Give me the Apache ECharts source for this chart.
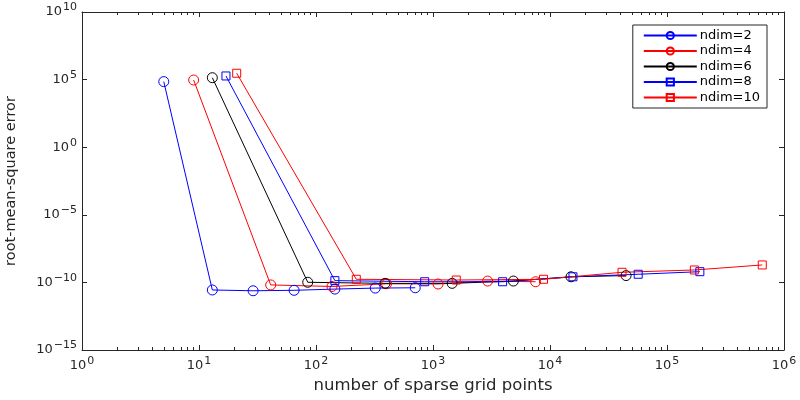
<!DOCTYPE html>
<html>
<head>
<meta charset="utf-8">
<script src="https://cdn.jsdelivr.net/npm/echarts@6/dist/echarts.min.js"></script>
<style>html,body{margin:0;padding:0;background:#fff}#c{width:800px;height:400px}</style>
</head>
<body>
<div id="c"></div>
<script>
// Sparse grid point counts
const pts2  = [5, 13, 29, 65, 145, 321, 705];
const pts4  = [9, 41, 137, 401, 1105, 2929, 7537];
const pts6  = [13, 85, 389, 1457, 4865, 15121, 44689];
const pts8  = [17, 145, 849, 3937, 15713, 56737, 190881];
const pts10 = [21, 221, 1581, 8801, 41265, 171425, 652065];
// root-mean-square errors
const err2  = [7.1e4, 2.75e-11, 2.4e-11, 2.6e-11, 3.2e-11, 3.8e-11, 4.0e-11];
const err4  = [9.3e4, 6.5e-11, 5.0e-11, 7.9e-11, 7.6e-11, 1.26e-10, 1.12e-10];
const err6  = [1.38e5, 1.02e-10, 8.5e-11, 8.5e-11, 1.26e-10, 2.6e-10, 3.2e-10];
const err8  = [1.86e5, 1.35e-10, 1.12e-10, 1.12e-10, 2.6e-10, 4.0e-10, 6.2e-10];
const err10 = [2.95e5, 1.7e-10, 1.5e-10, 1.7e-10, 5.6e-10, 8.3e-10, 1.95e-9];
const seriesNames = ['ndim=2', 'ndim=4', 'ndim=6', 'ndim=8', 'ndim=10'];
// axis ranges
const xMin = 1, xMax = 1e6;
const yMin = 1e-15, yMax = 1e10;

const axisColor = '#262626';
const font = 'DejaVu Sans, Verdana, sans-serif';

function zip(a, b) { return a.map((v, i) => [v, b[i]]); }
function powLabel(v) {
  const e = Math.round(Math.log10(v));
  const s = (e < 0 ? '\u2212' : '') + Math.abs(e);
  return '{b|10}{s|' + s + '}';
}
const richLbl = {
  b: { fontSize: 13, color: axisColor, fontFamily: font },
  s: { fontSize: 11, color: axisColor, fontFamily: font, padding: [0, 0, 9, 1] }
};
const minorVals = [];
for (let d = 0; d < 6; d++) for (let m = 2; m <= 9; m++) minorVals.push(m * Math.pow(10, d));

const chart = echarts.init(document.getElementById('c'), null, { renderer: 'canvas' });
function mk(name, x, y, color, symbol, size) {
  return {
    name: name, type: 'line', data: zip(x, y),
    xAxisIndex: 0, yAxisIndex: 0,
    symbol: symbol, symbolSize: size, showSymbol: true,
    lineStyle: { color: color, width: 1 },
    itemStyle: { color: 'rgba(255,255,255,0)', borderColor: color, borderWidth: 1 },
    emphasis: { disabled: true }, animation: false
  };
}
const colors = ['#0000ff', '#ff0000', '#000000', '#0000ff', '#ff0000'];
chart.setOption({
  backgroundColor: '#fff',
  animation: false,
  grid: { left: 82, right: 16, top: 12, bottom: 50, containLabel: false, outerBoundsMode: 'none' },
  legend: {
    orient: 'vertical', right: 33, top: 25,
    backgroundColor: '#fff', borderColor: axisColor, borderWidth: 1,
    padding: [4, 7, 4, 10], itemGap: 2.5, itemWidth: 53, itemHeight: 9,
    textStyle: { fontSize: 13, color: '#000', fontFamily: font, padding: [0, 0, 0, -2] },
    data: seriesNames
  },
  xAxis: [
    { type: 'log', logBase: 10, min: xMin, max: xMax, interval: 1, position: 'bottom',
      name: 'number of sparse grid points', nameLocation: 'middle', nameGap: 27,
      nameTextStyle: { fontSize: 16.5, color: axisColor, fontFamily: font },
      axisLine: { show: true, lineStyle: { color: axisColor, width: 1 } },
      axisTick: { show: true, inside: true, length: 5, lineStyle: { color: axisColor } },
      axisLabel: { formatter: powLabel, rich: richLbl, margin: 6 },
      splitLine: { show: false } },
    { type: 'log', logBase: 10, min: xMin, max: xMax, interval: 1, position: 'top',
      axisLine: { show: true, lineStyle: { color: axisColor, width: 1 } },
      axisTick: { show: true, inside: true, length: 5, lineStyle: { color: axisColor } },
      axisLabel: { show: false }, splitLine: { show: false } },
    { type: 'log', logBase: 10, min: xMin, max: xMax, position: 'bottom',
      axisLine: { show: false },
      axisTick: { show: true, inside: true, length: 3, customValues: minorVals, lineStyle: { color: axisColor } },
      axisLabel: { show: false }, splitLine: { show: false } },
    { type: 'log', logBase: 10, min: xMin, max: xMax, position: 'top',
      axisLine: { show: false },
      axisTick: { show: true, inside: true, length: 3, customValues: minorVals, lineStyle: { color: axisColor } },
      axisLabel: { show: false }, splitLine: { show: false } }
  ],
  yAxis: [
    { type: 'log', logBase: 10, min: yMin, max: yMax, interval: 5, position: 'left',
      name: 'root-mean-square error', nameLocation: 'middle', nameGap: 63,
      nameTextStyle: { fontSize: 14.5, color: axisColor, fontFamily: font },
      axisLine: { show: true, lineStyle: { color: axisColor, width: 1 } },
      axisTick: { show: true, inside: true, length: 5, lineStyle: { color: axisColor } },
      axisLabel: { formatter: powLabel, rich: richLbl, margin: 5 },
      splitLine: { show: false } },
    { type: 'log', logBase: 10, min: yMin, max: yMax, interval: 5, position: 'right',
      axisLine: { show: true, lineStyle: { color: axisColor, width: 1 } },
      axisTick: { show: true, inside: true, length: 5, lineStyle: { color: axisColor } },
      axisLabel: { show: false }, splitLine: { show: false } }
  ],
  series: [
    mk(seriesNames[0], pts2, err2, colors[0], 'circle', 10),
    mk(seriesNames[1], pts4, err4, colors[1], 'circle', 10),
    mk(seriesNames[2], pts6, err6, colors[2], 'circle', 10),
    mk(seriesNames[3], pts8, err8, colors[3], 'rect', 8),
    mk(seriesNames[4], pts10, err10, colors[4], 'rect', 8)
  ]
});
</script>
</body>
</html>
